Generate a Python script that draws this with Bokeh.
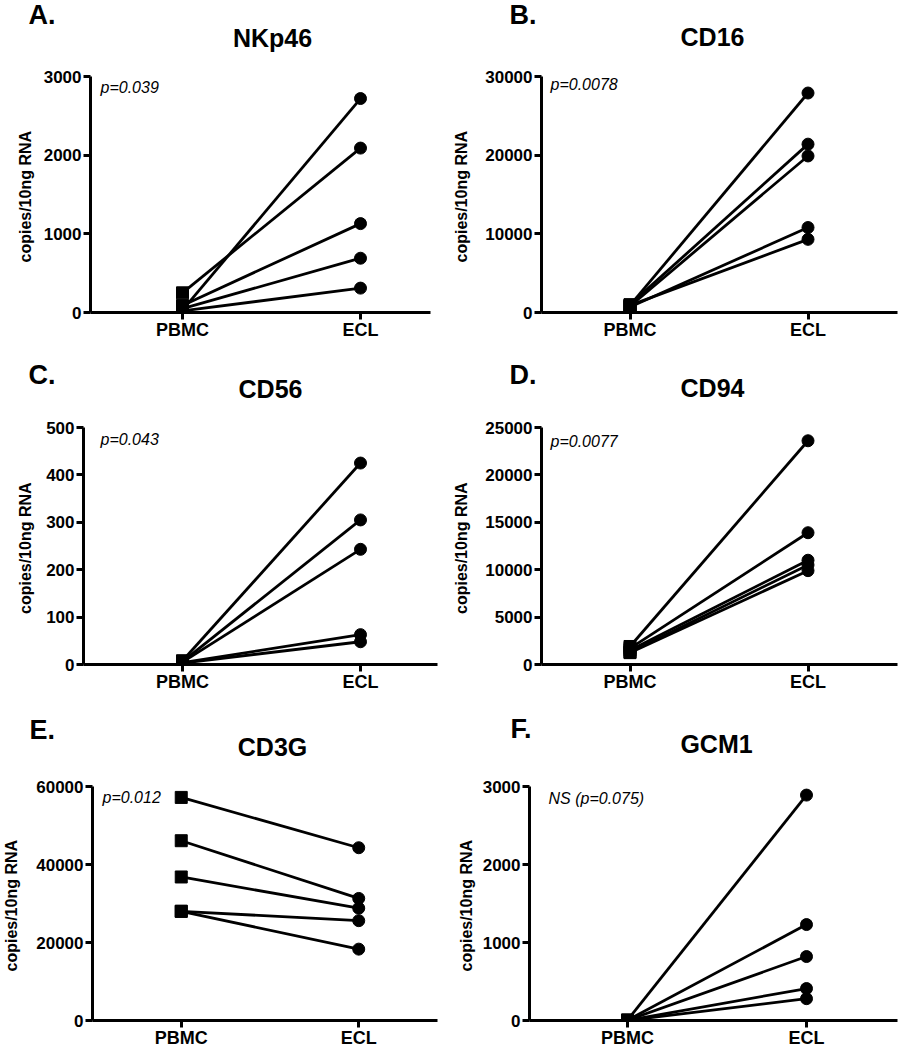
from bokeh.plotting import figure
from bokeh.models import FixedTicker, Label, Range1d, ColumnDataSource
from bokeh.layouts import column, row
from bokeh.embed import file_html
from bokeh.resources import INLINE

# ---------------- data ----------------
categories = ["PBMC", "ECL"]
panel_letters = ["A.", "B.", "C.", "D.", "E.", "F."]
genes = ["NKp46", "CD16", "CD56", "CD94", "CD3G", "GCM1"]
p_texts = ["p=0.039", "p=0.0078", "p=0.043", "p=0.0077", "p=0.012", "NS (p=0.075)"]
y_label = "copies/10ng  RNA"

nkp46_pbmc = [30, 250, 90, 50, 20]
nkp46_ecl = [2720, 2090, 1130, 690, 310]
cd16_pbmc = [900, 1000, 800, 700, 900]
cd16_ecl = [27900, 21400, 19900, 10800, 9300]
cd56_pbmc = [8, 6, 5, 4, 3]
cd56_ecl = [425, 305, 243, 63, 48]
cd94_pbmc = [1900, 1700, 1500, 1300, 1250]
cd94_ecl = [23600, 13900, 11000, 10500, 9900]
cd3g_pbmc = [57200, 46100, 36800, 28000, 28000]
cd3g_ecl = [44300, 31300, 28800, 25600, 18300]
gcm1_pbmc = [5, 4, 3, 2, 1]
gcm1_ecl = [2890, 1230, 820, 410, 280]

nkp46_ticks = [0, 1000, 2000, 3000]
cd16_ticks = [0, 10000, 20000, 30000]
cd56_ticks = [0, 100, 200, 300, 400, 500]
cd94_ticks = [0, 5000, 10000, 15000, 20000, 25000]
cd3g_ticks = [0, 20000, 40000, 60000]
gcm1_ticks = [0, 1000, 2000, 3000]

pbmc_series = [nkp46_pbmc, cd16_pbmc, cd56_pbmc, cd94_pbmc, cd3g_pbmc, gcm1_pbmc]
ecl_series = [nkp46_ecl, cd16_ecl, cd56_ecl, cd94_ecl, cd3g_ecl, gcm1_ecl]
tick_sets = [nkp46_ticks, cd16_ticks, cd56_ticks, cd94_ticks, cd3g_ticks, gcm1_ticks]

# ---------------- layout (page pixels) ----------------
FONT = "Liberation Sans"
PAGE_W = 899
col_box = [(0, 450), (450, 449)]
# per row: header band (y0, h), plot band (y0, h)
row_box = [((0, 58), (58, 284)), ((342, 66), (408, 287)), ((695, 70), (765, 285))]
# frame L, R, T, B, PBMC px, ECL px, axis label standoff
frames = [
    (90, 430, 76, 313, 182, 360, 7),
    (539, 897, 76, 313, 628, 807, 12),
    (83, 437, 427, 666, 182, 360, 9),
    (539, 897, 426, 664, 628, 807, 12),
    (91, 437, 786, 1021, 180, 358, 13),
    (529, 897, 783, 1021, 627, 806, 5),
]
# letter (x, y), title (center x, y), p text (x, y)  -- text anchor positions
texts_pos = [
    ((28, 14), (272, 37), (100, 88)),
    ((509, 14), (712, 36), (548, 85)),
    ((28, 374), (270, 388), (100, 441)),
    ((509, 374), (712, 387), (548, 441)),
    ((29, 729), (272, 746), (101, 798)),
    ((510, 728), (716, 743), (548, 799)),
]

plots = []
for i in range(6):
    cx0, cw = col_box[i % 2]
    (hy0, hh), (ry0, rh) = row_box[i // 2]
    L, R, T, B, xp, xe, lstd = frames[i]
    ticks = tick_sets[i]
    d = xe - xp
    xs = Range1d(1 - (xp - L) / d, 2 + (R - xe) / d)
    ys = Range1d(ticks[0], ticks[-1])
    p = figure(width=cw, height=rh, x_range=xs, y_range=ys,
               output_backend="svg", toolbar_location=None, title_location=None,
               min_border_left=L - cx0, min_border_right=cx0 + cw - R,
               min_border_top=T - ry0, min_border_bottom=ry0 + rh - B)
    p.outline_line_color = None
    p.grid.visible = False
    p.background_fill_color = "white"
    p.border_fill_color = "white"

    for ax in (p.xaxis[0], p.yaxis[0]):
        ax.axis_line_width = 3
        ax.axis_line_color = "black"
        ax.major_tick_line_width = 3
        ax.major_tick_line_color = "black"
        ax.major_tick_out = 7
        ax.major_tick_in = 0
        ax.minor_tick_out = 0
        ax.minor_tick_in = 0
        ax.major_label_text_font = FONT
        ax.major_label_text_font_style = "bold"
        ax.major_label_text_color = "black"

    p.xaxis.ticker = FixedTicker(ticks=[1, 2])
    p.xaxis.major_label_overrides = {1: categories[0], 2: categories[1]}
    p.xaxis.major_label_text_font_size = "18px"
    p.xaxis.major_label_standoff = 0

    p.yaxis.ticker = FixedTicker(ticks=ticks)
    p.yaxis.major_label_overrides = {t: str(t) for t in ticks}
    p.yaxis.major_label_text_font_size = "17px"
    p.yaxis.major_label_standoff = 2
    p.yaxis.axis_label = y_label
    p.yaxis.axis_label_text_font = FONT
    p.yaxis.axis_label_text_font_style = "bold"
    p.yaxis.axis_label_text_font_size = "16px"
    p.yaxis.axis_label_text_color = "black"
    p.yaxis.axis_label_standoff = lstd

    pb = pbmc_series[i]
    ec = ecl_series[i]
    n = len(pb)
    src = ColumnDataSource(dict(x0=[1] * n, y0=pb, x1=[2] * n, y1=ec))
    p.segment(x0="x0", y0="y0", x1="x1", y1="y1", source=src,
              line_color="black", line_width=2.8)
    p.scatter(x="x0", y="y0", source=src, marker="square", size=12,
              fill_color="black", line_color="black")
    p.scatter(x="x1", y="y1", source=src, marker="circle", size=12,
              fill_color="black", line_color="black")

    _, _, (px_, pbase) = texts_pos[i]
    p.add_layout(Label(x=px_ - L, y=B - pbase, x_units="screen", y_units="screen",
                       text=p_texts[i], text_font=FONT, text_font_style="italic",
                       text_font_size="16px", text_color="black",
                       text_baseline="alphabetic", text_align="left"))
    plots.append(p)

# header bands holding panel letters and gene titles
headers = []
for r in range(3):
    (hy0, hh), _ = row_box[r]
    h = figure(width=PAGE_W, height=hh, x_range=Range1d(0, PAGE_W), y_range=Range1d(hh, 0),
               output_backend="svg", toolbar_location=None, title_location=None,
               x_axis_location=None, y_axis_location=None,
               min_border_left=0, min_border_right=0, min_border_top=0, min_border_bottom=0)
    h.outline_line_color = None
    h.grid.visible = False
    for i in (2 * r, 2 * r + 1):
        (lx, lb), (tx, tb), _ = texts_pos[i]
        h.add_layout(Label(x=lx, y=lb - hy0, text=panel_letters[i], text_font=FONT,
                           text_font_style="bold", text_font_size="27px", text_color="black",
                           text_baseline="alphabetic", text_align="left"))
        h.add_layout(Label(x=tx, y=tb - hy0, text=genes[i], text_font=FONT,
                           text_font_style="bold", text_font_size="25px", text_color="black",
                           text_baseline="alphabetic", text_align="center"))
    headers.append(h)

layout = column(headers[0], row(plots[0], plots[1]),
                headers[1], row(plots[2], plots[3]),
                headers[2], row(plots[4], plots[5]))
open("out.html", "w").write(file_html(layout, INLINE))
